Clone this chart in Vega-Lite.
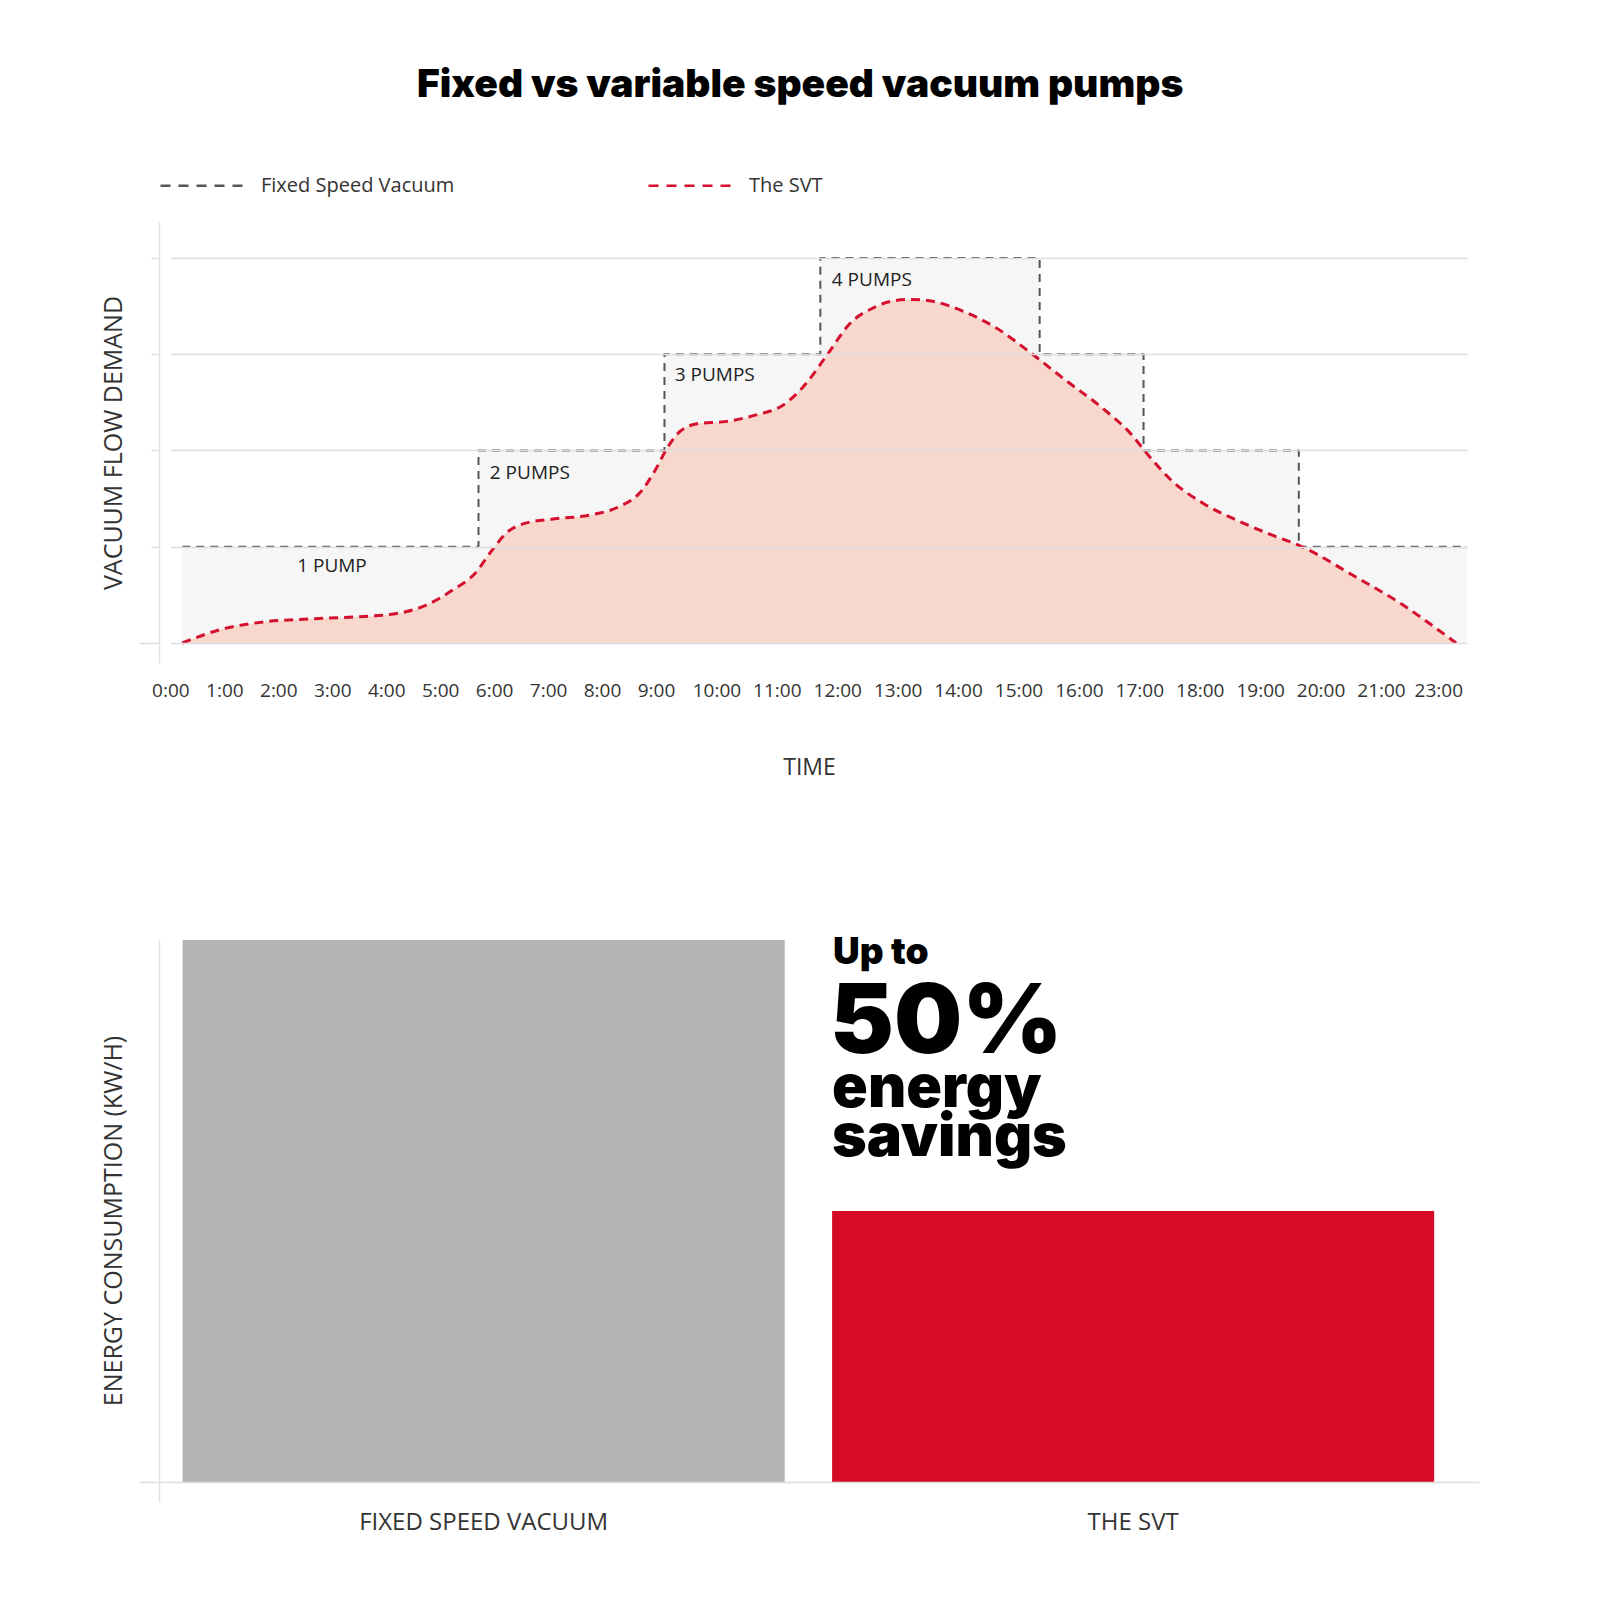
{
  "$schema": "https://vega.github.io/schema/vega-lite/v6.json",
  "padding": {"left": 101, "top": 66, "right": 5, "bottom": 5},
  "background": "white",
  "title": {
    "text": "Fixed vs variable speed vacuum pumps",
    "font": "Inter",
    "fontSize": 39,
    "fontWeight": 900,
    "color": "#000000",
    "anchor": "middle",
    "offset": 37,
    "dx": 10
  },
  "config": {
    "view": {"stroke": null},
    "font": "Open Sans",
    "axis": {"labelColor": "#333333", "titleColor": "#333333", "titleFontWeight": "normal", "labelLimit": 0}
  },
  "resolve": {"scale": {"color": "independent"}, "legend": {"color": "independent"}},
  "spacing": 154,
  "datasets": {
    "fixed": [
      {"hour": 0.22, "pumps": 1, "series": "Fixed Speed Vacuum"},
      {"hour": 5.71, "pumps": 2, "series": "Fixed Speed Vacuum"},
      {"hour": 9.14, "pumps": 3, "series": "Fixed Speed Vacuum"},
      {"hour": 11.72, "pumps": 4, "series": "Fixed Speed Vacuum"},
      {"hour": 15.35, "pumps": 3, "series": "Fixed Speed Vacuum"},
      {"hour": 17.07, "pumps": 2, "series": "Fixed Speed Vacuum"},
      {"hour": 19.64, "pumps": 1, "series": "Fixed Speed Vacuum"},
      {"hour": 24, "pumps": 1, "series": "Fixed Speed Vacuum"}
    ],
    "svt": [
      {"hour": 0.22, "demand": 0, "series": "The SVT"},
      {"hour": 0.93, "demand": 0.14, "series": "The SVT"},
      {"hour": 1.75, "demand": 0.22, "series": "The SVT"},
      {"hour": 2.58, "demand": 0.25, "series": "The SVT"},
      {"hour": 3.41, "demand": 0.27, "series": "The SVT"},
      {"hour": 4.23, "demand": 0.31, "series": "The SVT"},
      {"hour": 4.73, "demand": 0.39, "series": "The SVT"},
      {"hour": 5.23, "demand": 0.55, "series": "The SVT"},
      {"hour": 5.64, "demand": 0.72, "series": "The SVT"},
      {"hour": 5.97, "demand": 0.97, "series": "The SVT"},
      {"hour": 6.22, "demand": 1.14, "series": "The SVT"},
      {"hour": 6.55, "demand": 1.24, "series": "The SVT"},
      {"hour": 7.13, "demand": 1.29, "series": "The SVT"},
      {"hour": 7.79, "demand": 1.33, "series": "The SVT"},
      {"hour": 8.29, "demand": 1.41, "series": "The SVT"},
      {"hour": 8.7, "demand": 1.56, "series": "The SVT"},
      {"hour": 8.99, "demand": 1.8, "series": "The SVT"},
      {"hour": 9.18, "demand": 2.02, "series": "The SVT"},
      {"hour": 9.4, "demand": 2.2, "series": "The SVT"},
      {"hour": 9.7, "demand": 2.28, "series": "The SVT"},
      {"hour": 10.14, "demand": 2.3, "series": "The SVT"},
      {"hour": 10.66, "demand": 2.37, "series": "The SVT"},
      {"hour": 11.1, "demand": 2.47, "series": "The SVT"},
      {"hour": 11.42, "demand": 2.65, "series": "The SVT"},
      {"hour": 11.84, "demand": 3.0, "series": "The SVT"},
      {"hour": 12.21, "demand": 3.32, "series": "The SVT"},
      {"hour": 12.59, "demand": 3.48, "series": "The SVT"},
      {"hour": 12.89, "demand": 3.55, "series": "The SVT"},
      {"hour": 13.24, "demand": 3.57, "series": "The SVT"},
      {"hour": 13.58, "demand": 3.55, "series": "The SVT"},
      {"hour": 14.11, "demand": 3.44, "series": "The SVT"},
      {"hour": 14.64, "demand": 3.27, "series": "The SVT"},
      {"hour": 15.17, "demand": 3.03, "series": "The SVT"},
      {"hour": 15.78, "demand": 2.73, "series": "The SVT"},
      {"hour": 16.39, "demand": 2.44, "series": "The SVT"},
      {"hour": 16.85, "demand": 2.18, "series": "The SVT"},
      {"hour": 17.15, "demand": 1.95, "series": "The SVT"},
      {"hour": 17.53, "demand": 1.69, "series": "The SVT"},
      {"hour": 18.06, "demand": 1.45, "series": "The SVT"},
      {"hour": 18.67, "demand": 1.26, "series": "The SVT"},
      {"hour": 19.2, "demand": 1.12, "series": "The SVT"},
      {"hour": 19.66, "demand": 1.01, "series": "The SVT"},
      {"hour": 20.57, "demand": 0.69, "series": "The SVT"},
      {"hour": 21.69, "demand": 0.41, "series": "The SVT"},
      {"hour": 22.98, "demand": 0.14, "series": "The SVT"},
      {"hour": 23.62, "demand": 0, "series": "The SVT"}
    ],
    "stages": [
      {"label": "1 PUMP", "hour": 2.35, "pumps": 0.8},
      {"label": "2 PUMPS", "hour": 5.92, "pumps": 1.77},
      {"label": "3 PUMPS", "hour": 9.31, "pumps": 2.78},
      {"label": "4 PUMPS", "hour": 11.91, "pumps": 3.77}
    ],
    "energy": [
      {"system": "FIXED SPEED VACUUM", "consumption": 100},
      {"system": "THE SVT", "consumption": 50}
    ],
    "callout": [
      {"system": "THE SVT", "line": "Up to", "consumption": 95.6},
      {"system": "THE SVT", "line": "50%", "consumption": 79.2},
      {"system": "THE SVT", "line": "energy", "consumption": 69.2},
      {"system": "THE SVT", "line": "savings", "consumption": 60.1}
    ]
  },
  "vconcat": [
    {
      "width": 1320,
      "height": 441,
      "encoding": {
        "x": {
          "field": "hour",
          "type": "quantitative",
          "scale": {"domain": [0, 9, 21, 24], "range": [11.4, 497, 1222, 1308], "nice": false, "zero": false},
          "axis": {
            "values": [0, 1, 2, 3, 4, 5, 6, 7, 8, 9, 10, 11, 12, 13, 14, 15, 16, 17, 18, 19, 20, 21, 23],
            "labelExpr": "datum.value + ':00'",
            "labelFontSize": 19,
            "labelPadding": 18,
            "labelFlush": false,
            "labelOverlap": false,
            "domain": false,
            "ticks": false,
            "grid": false,
            "title": "TIME",
            "titleFontSize": 23,
            "titlePadding": 56,
            "titleX": 650
          }
        }
      },
      "layer": [
        {
          "data": {"name": "fixed"},
          "mark": {"type": "area", "interpolate": "step-after", "color": "#F6F6F6"},
          "encoding": {
            "y": {
              "field": "pumps",
              "type": "quantitative",
              "scale": {"domain": [-0.208, 4.374], "nice": false, "zero": false},
              "axis": {
                "values": [0, 1, 2, 3, 4],
                "labels": false,
                "grid": true,
                "gridColor": "#DDDDDD",
                "gridWidth": 1.5,
                "domainColor": "#E3E3E3",
                "domainWidth": 1.5,
                "tickColor": "#DDDDDD",
                "tickWidth": 1.5,
                "tickSize": {"condition": {"test": "datum.value === 0", "value": 20}, "value": 8},
                "title": "VACUUM FLOW DEMAND",
                "titleFontSize": 25,
                "titlePadding": 12,
                "zindex": 1
              }
            }
          }
        },
        {
          "data": {"name": "svt"},
          "mark": {"type": "area", "interpolate": "monotone", "color": "#F8D8CD"},
          "encoding": {"y": {"field": "demand", "type": "quantitative"}}
        },
        {
          "data": {"name": "fixed"},
          "mark": {"type": "line", "interpolate": "step-after", "strokeDash": [8, 6], "strokeWidth": 2},
          "encoding": {
            "y": {"field": "pumps", "type": "quantitative"},
            "color": {
              "field": "series",
              "type": "nominal",
              "scale": {"domain": ["Fixed Speed Vacuum", "The SVT"], "range": ["#555555", "#D4102E"]},
              "legend": {
                "title": null,
                "orient": "none",
                "legendX": 0,
                "legendY": -80,
                "direction": "horizontal",
                "symbolType": "stroke",
                "symbolSize": 7056,
                "symbolDash": [10, 8],
                "symbolStrokeWidth": 2.5,
                "labelFontSize": 20,
                "labelColor": "#333333",
                "labelOffset": 15,
                "labelLimit": 0,
                "columnPadding": 188
              }
            }
          }
        },
        {
          "data": {"name": "svt"},
          "mark": {"type": "line", "interpolate": "monotone", "strokeDash": [9, 6], "strokeWidth": 3},
          "encoding": {
            "y": {"field": "demand", "type": "quantitative"},
            "color": {"field": "series", "type": "nominal"}
          }
        },
        {
          "data": {"name": "stages"},
          "mark": {"type": "text", "align": "left", "baseline": "middle", "fontSize": 19, "color": "#222222"},
          "encoding": {
            "y": {"field": "pumps", "type": "quantitative"},
            "text": {"field": "label"}
          }
        }
      ]
    },
    {
      "width": 1320,
      "height": 563,
      "encoding": {
        "x": {
          "field": "system",
          "type": "nominal",
          "sort": null,
          "scale": {"domain": ["FIXED SPEED VACUUM", "THE SVT"], "paddingInner": 0.073, "paddingOuter": 0.0527, "align": 0.345},
          "axis": {
            "labelAngle": 0,
            "labelFontSize": 24,
            "labelPadding": 8,
            "domain": false,
            "ticks": false,
            "title": null
          }
        },
        "y": {
          "field": "consumption",
          "type": "quantitative",
          "scale": {"domain": [-3.7, 100.2], "nice": false, "zero": false},
          "axis": {
            "values": [0],
            "labels": false,
            "grid": true,
            "gridColor": "#DDDDDD",
            "gridWidth": 1.5,
            "domainColor": "#E3E3E3",
            "domainWidth": 1.5,
            "tickColor": "#DDDDDD",
            "tickWidth": 1.5,
            "tickSize": 20,
            "title": "ENERGY CONSUMPTION (KW/H)",
            "titleFontSize": 25,
            "titlePadding": 12,
            "zindex": 1
          }
        }
      },
      "layer": [
        {
          "data": {"name": "energy"},
          "mark": {"type": "bar"},
          "encoding": {
            "color": {
              "field": "system",
              "type": "nominal",
              "scale": {"domain": ["FIXED SPEED VACUUM", "THE SVT"], "range": ["#B3B3B3", "#D60B28"]},
              "legend": null
            }
          }
        },
        {
          "data": {"name": "callout"},
          "transform": [{"filter": "datum.line === 'Up to'"}],
          "mark": {"type": "text", "align": "left", "baseline": "alphabetic", "font": "Inter", "fontWeight": 900, "fontSize": 37, "color": "#000000", "dx": 1},
          "encoding": {"x": {"field": "system", "type": "nominal", "bandPosition": 0}, "text": {"field": "line"}}
        },
        {
          "data": {"name": "callout"},
          "transform": [{"filter": "datum.line === '50%'"}],
          "mark": {"type": "text", "align": "left", "baseline": "alphabetic", "font": "Inter", "fontWeight": 900, "fontSize": 96, "color": "#000000", "dx": -2},
          "encoding": {"x": {"field": "system", "type": "nominal", "bandPosition": 0}, "text": {"field": "line"}}
        },
        {
          "data": {"name": "callout"},
          "transform": [{"filter": "datum.line === 'energy' || datum.line === 'savings'"}],
          "mark": {"type": "text", "align": "left", "baseline": "alphabetic", "font": "Inter", "fontWeight": 900, "fontSize": 59, "color": "#000000", "dx": 0},
          "encoding": {"x": {"field": "system", "type": "nominal", "bandPosition": 0}, "text": {"field": "line"}}
        }
      ]
    }
  ]
}
